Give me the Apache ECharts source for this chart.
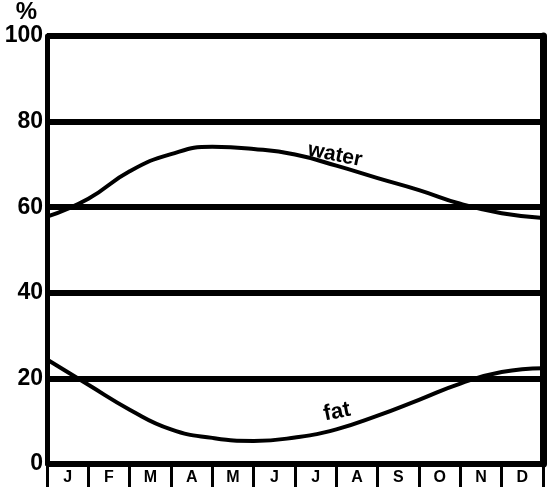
<!DOCTYPE html>
<html>
<head>
<meta charset="utf-8">
<script src="https://cdn.jsdelivr.net/npm/echarts@6/dist/echarts.min.js"></script>
<style>
  html, body { margin: 0; padding: 0; background: #fff; }
  #chart { width: 550px; height: 494px; }
</style>
</head>
<body>
<div id="chart"></div>
<script>
// month initials along the bottom
const months = ['J', 'F', 'M', 'A', 'M', 'J', 'J', 'A', 'S', 'O', 'N', 'D'];
// positions in months from the start of January
const monthPos = [0, 1, 2, 3, 4, 5, 6, 7, 8, 9, 10, 11, 12];
const water = [57.8, 62, 68.4, 72.4, 74.1, 73.6, 72.3, 69.7, 66.8, 64, 60.8, 58.6, 57.5];
const fat = [24.4, 18.5, 12.7, 8.1, 6.1, 5.4, 6.2, 8.1, 11.3, 15, 18.8, 21.5, 22.4];
const yTicks = [0, 20, 40, 60, 80, 100];

const font = 'Liberation Sans';
const chart = echarts.init(document.getElementById('chart'));

function pairs(vals) {
  return monthPos.map((m, i) => [m, vals[i]]);
}

const option = {
  backgroundColor: '#fff',
  animation: false,
  grid: { left: 47, right: 7, top: 36, bottom: 30 },
  xAxis: [
    {
      type: 'category',
      data: months,
      boundaryGap: true,
      axisLine: { show: true, lineStyle: { color: '#000', width: 4 } },
      axisTick: { show: true, length: 23, lineStyle: { color: '#000', width: 3 } },
      axisLabel: {
        color: '#000', fontFamily: font, fontWeight: 'bold', fontSize: 16, margin: 6
      },
      splitLine: { show: false }
    },
    {
      type: 'value',
      min: 0,
      max: 12,
      show: false
    }
  ],
  yAxis: [
    {
      type: 'value',
      min: yTicks[0],
      max: yTicks[yTicks.length - 1],
      interval: 20,
      name: '%',
      nameLocation: 'end',
      nameGap: 10,
      nameTextStyle: {
        color: '#000', fontFamily: font, fontWeight: 'bold', fontSize: 24,
        align: 'right', padding: [0, 10, 0, 0]
      },
      axisLine: { show: true, lineStyle: { color: '#000', width: 5 } },
      axisTick: { show: false },
      axisLabel: {
        color: '#000', fontFamily: font, fontWeight: 'bold', fontSize: 23, margin: 4
      },
      splitLine: { show: true, lineStyle: { color: '#000', width: 6 } }
    },
    {
      type: 'value',
      position: 'right',
      min: 0,
      max: 100,
      axisLine: { show: true, lineStyle: { color: '#000', width: 7 } },
      axisTick: { show: false },
      axisLabel: { show: false },
      splitLine: { show: false }
    }
  ],
  graphic: [
    {
      type: 'text',
      x: 335, y: 155, rotation: -0.2,
      style: {
        text: 'water', fill: '#000', font: 'bold 21px "Liberation Sans"',
        align: 'center', verticalAlign: 'middle'
      }
    },
    {
      type: 'text',
      x: 337, y: 412, rotation: 0.2,
      style: {
        text: 'fat', fill: '#000', font: 'bold 22px "Liberation Sans"',
        align: 'center', verticalAlign: 'middle'
      }
    }
  ],
  series: [
    {
      name: 'water',
      type: 'line',
      xAxisIndex: 1,
      yAxisIndex: 0,
      smooth: true,
      showSymbol: false,
      data: pairs(water),
      lineStyle: { color: '#000', width: 4 },
      z: 5
    },
    {
      name: 'fat',
      type: 'line',
      xAxisIndex: 1,
      yAxisIndex: 0,
      smooth: true,
      showSymbol: false,
      data: pairs(fat),
      lineStyle: { color: '#000', width: 4 },
      z: 5
    }
  ]
};

chart.setOption(option);
</script>
</body>
</html>
